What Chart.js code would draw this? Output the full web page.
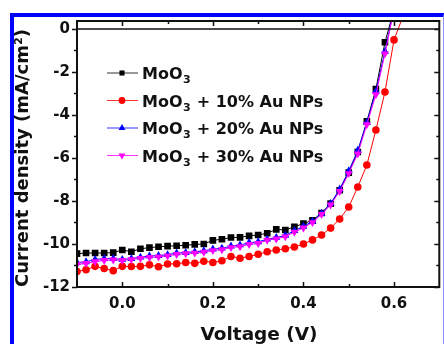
<!DOCTYPE html>
<html>
<head>
    <title>J-V curves</title>
    <script src="https://cdn.jsdelivr.net/npm/chart.js"></script>
    <style>
        body { margin: 0; background: #fff; }
        #wrap { position: relative; width: 444px; height: 344px; overflow: hidden; }
        #frame {
            position: absolute; left: 10px; top: 13px; width: 429px; height: 340px;
            border-left: 4px solid #0000ff; border-top: 4px solid #0000ff;
            border-right: 1px solid #8f8fff;
        }
        canvas { position: absolute; left: 0; top: 0; }
    </style>
</head>
<body>
<div id="wrap">
    <div id="frame"></div>
    <canvas id="jv" width="444" height="344"></canvas>
</div>

<script>
    // voltage sweep (V)
    const voltage = [-0.10, -0.08, -0.06, -0.04, -0.02, 0.00, 0.02, 0.04, 0.06, 0.08,
                     0.10, 0.12, 0.14, 0.16, 0.18, 0.20, 0.22, 0.24, 0.26, 0.28,
                     0.30, 0.32, 0.34, 0.36, 0.38, 0.40, 0.42, 0.44, 0.46, 0.48,
                     0.50, 0.52, 0.54, 0.56, 0.58, 0.60];
    const voltageAu10 = [...voltage, 0.62];

    // current density (mA/cm2)
    const moo3 = [-10.45, -10.42, -10.42, -10.42, -10.40, -10.28, -10.36, -10.22, -10.17, -10.13,
                  -10.10, -10.08, -10.06, -10.02, -10.00, -9.83, -9.78, -9.70, -9.69, -9.62,
                  -9.58, -9.50, -9.32, -9.35, -9.20, -9.05, -8.90, -8.56, -8.12, -7.50,
                  -6.68, -5.72, -4.30, -2.80, -0.62, 0.90];
    const au10 = [-11.28, -11.20, -11.04, -11.14, -11.24, -11.04, -11.05, -11.04, -10.97, -11.06,
                  -10.93, -10.92, -10.86, -10.90, -10.80, -10.86, -10.78, -10.58, -10.66, -10.58,
                  -10.48, -10.36, -10.28, -10.22, -10.14, -10.00, -9.81, -9.58, -9.26, -8.84,
                  -8.28, -7.35, -6.33, -4.70, -2.93, -0.51, 0.60];
    const au20 = [-10.86, -10.83, -10.72, -10.68, -10.68, -10.72, -10.68, -10.62, -10.56, -10.54,
                  -10.50, -10.42, -10.40, -10.36, -10.32, -10.24, -10.20, -10.10, -10.05, -9.94,
                  -9.90, -9.78, -9.70, -9.60, -9.38, -9.18, -8.95, -8.58, -8.12, -7.45,
                  -6.60, -5.65, -4.35, -2.90, -1.05, 1.00];
    const au30 = [-10.95, -10.90, -10.82, -10.76, -10.74, -10.76, -10.72, -10.66, -10.62, -10.60,
                  -10.55, -10.48, -10.45, -10.42, -10.38, -10.30, -10.26, -10.16, -10.12, -10.02,
                  -9.97, -9.82, -9.76, -9.66, -9.45, -9.25, -9.00, -8.62, -8.18, -7.55,
                  -6.72, -5.80, -4.45, -3.05, -1.15, 0.90];

    const xTicks = [0.0, 0.2, 0.4, 0.6];
    const xMinorTicks = [0.1, 0.3, 0.5];
    const yTicks = [0, -2, -4, -6, -8, -10, -12];
    const yMinorTicks = [-1, -3, -5, -7, -9, -11];

    const FONT = 'DejaVu Sans';
    const INK = '#111';

    function points(xs, ys) {
        return xs.map((x, i) => ({ x: x, y: ys[i] }));
    }

    const series = [
        { label: 'MoO', rest: '', data: points(voltage, moo3), color: '#000000', style: 'rect', radius: 4.7, legendRadius: 3.6, rotation: 0 },
        { label: 'MoO', rest: ' + 10% Au NPs', data: points(voltageAu10, au10), color: '#ff0000', style: 'circle', radius: 3.8, legendRadius: 3.4, rotation: 0 },
        { label: 'MoO', rest: ' + 20% Au NPs', data: points(voltage, au20), color: '#0000ff', style: 'triangle', radius: 4.6, legendRadius: 4, rotation: 0 },
        { label: 'MoO', rest: ' + 30% Au NPs', data: points(voltage, au30), color: '#ff00ff', style: 'triangle', radius: 4.6, legendRadius: 4, rotation: 180 }
    ];

    // frame, zero line, tick marks, legend and axis titles
    const decorations = {
        id: 'decorations',
        afterDraw(chart) {
            const ctx = chart.ctx;
            const a = chart.chartArea;
            const xs = chart.scales.x;
            const ys = chart.scales.y;
            ctx.save();

            ctx.strokeStyle = INK;
            ctx.lineWidth = 1.5;
            const y0 = ys.getPixelForValue(0);
            ctx.beginPath();
            ctx.moveTo(a.left, y0);
            ctx.lineTo(a.right, y0);
            ctx.stroke();

            ctx.lineWidth = 1.5;
            ctx.beginPath();
            xTicks.concat(xMinorTicks).forEach(v => {
                const len = xTicks.includes(v) ? 5 : 3;
                const px = Math.round(xs.getPixelForValue(v)) + 0.5;
                ctx.moveTo(px, a.bottom); ctx.lineTo(px, a.bottom - len);
                ctx.moveTo(px, a.top); ctx.lineTo(px, a.top + len);
            });
            yTicks.concat(yMinorTicks).forEach(v => {
                const len = yTicks.includes(v) ? 5 : 3;
                const py = Math.round(ys.getPixelForValue(v)) + 0.5;
                ctx.moveTo(a.left, py); ctx.lineTo(a.left - len, py);
                ctx.moveTo(a.right, py); ctx.lineTo(a.right - len, py);
            });
            ctx.stroke();

            ctx.lineWidth = 2;
            ctx.strokeRect(a.left, a.top, a.right - a.left, a.bottom - a.top);

            // legend
            const rowY = [73, 100.5, 128, 155.5];
            series.forEach((s, i) => {
                const y = rowY[i];
                ctx.strokeStyle = s.color;
                ctx.lineWidth = 1;
                ctx.globalAlpha = 0.8;
                ctx.beginPath();
                ctx.moveTo(107, y);
                ctx.lineTo(138, y);
                ctx.stroke();
                ctx.globalAlpha = 1;
                ctx.fillStyle = s.color;
                Chart.helpers.drawPoint(ctx, { pointStyle: s.style, radius: s.legendRadius, rotation: s.rotation, borderWidth: 0 }, 122, y);

                ctx.fillStyle = INK;
                ctx.textAlign = 'left';
                ctx.textBaseline = 'alphabetic';
                ctx.font = 'bold 16px "' + FONT + '"';
                let x = 142;
                ctx.fillText(s.label, x, y + 6);
                x += ctx.measureText(s.label).width;
                ctx.font = 'bold 11px "' + FONT + '"';
                ctx.fillText('3', x + 0.5, y + 10);
                x += ctx.measureText('3').width + 1;
                ctx.font = 'bold 16px "' + FONT + '"';
                ctx.fillText(s.rest, x, y + 6);
            });

            // axis titles
            ctx.fillStyle = INK;
            ctx.textAlign = 'center';
            ctx.textBaseline = 'alphabetic';
            ctx.font = 'bold 18.5px "' + FONT + '"';
            ctx.fillText('Voltage (V)', 259, 340);

            ctx.translate(28, 158);
            ctx.rotate(-Math.PI / 2);
            ctx.font = 'bold 18px "' + FONT + '"';
            ctx.fillText('Current density (mA/cm²)', 0, 0);
            ctx.restore();
        }
    };

    new Chart(document.getElementById('jv').getContext('2d'), {
        type: 'line',
        data: {
            datasets: series.map((s, i) => ({
                label: s.label + '3' + s.rest,
                data: s.data,
                borderColor: s.color,
                backgroundColor: s.color,
                borderWidth: 1,
                pointStyle: s.style,
                pointRadius: s.radius,
                pointRotation: s.rotation,
                pointBorderWidth: 0,
                tension: 0,
                order: series.length - i,
                clip: 0
            }))
        },
        options: {
            responsive: false,
            animation: false,
            devicePixelRatio: 1,
            layout: { padding: { top: 21, right: 4, left: 0, bottom: 0 } },
            plugins: {
                legend: { display: false },
                tooltip: { enabled: false }
            },
            scales: {
                x: {
                    type: 'linear',
                    min: -0.1,
                    max: 0.7,
                    afterBuildTicks: axis => { axis.ticks = xTicks.map(v => ({ value: v })); },
                    afterFit: axis => { axis.height = 57; },
                    grid: { display: false, drawTicks: false },
                    border: { display: false },
                    ticks: {
                        color: INK,
                        padding: 8,
                        maxRotation: 0,
                        font: { family: FONT, size: 15, weight: 'bold' },
                        callback: v => v.toFixed(1)
                    }
                },
                y: {
                    min: -12,
                    max: 0.37,
                    afterBuildTicks: axis => { axis.ticks = yTicks.map(v => ({ value: v })); },
                    afterFit: axis => { axis.width = 77; },
                    grid: { display: false, drawTicks: false },
                    border: { display: false },
                    ticks: {
                        color: INK,
                        padding: 7,
                        font: { family: FONT, size: 15, weight: 'bold' },
                        callback: v => String(v)
                    }
                }
            }
        },
        plugins: [decorations]
    });
</script>
</body>
</html>
